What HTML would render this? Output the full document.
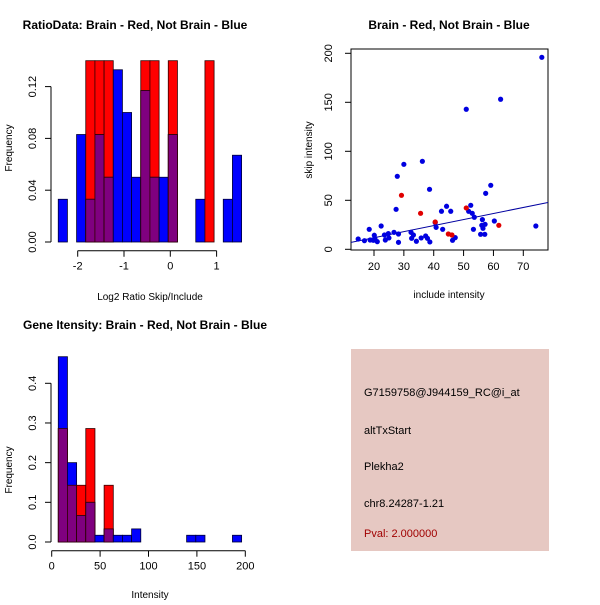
<!DOCTYPE html>
<html><head><meta charset="utf-8">
<style>
html,body{margin:0;padding:0;background:#fff;}
svg text{font-family:"Liberation Sans",sans-serif;fill:#000;}
</style></head>
<body>
<svg id="root" width="600" height="600" xmlns="http://www.w3.org/2000/svg">
  <rect x="0" y="0" width="600" height="600" fill="#fff"/>
  <g id="p1"></g>
  <g id="p2"></g>
  <g id="p3"></g>
  <g id="p4">
    <rect x="351" y="349" width="198" height="202" fill="#E6C8C2"/>
    <text x="364" y="396" font-size="11">G7159758@J944159_RC@i_at</text>
    <text x="364" y="434" font-size="11">altTxStart</text>
    <text x="364" y="470" font-size="11">Plekha2</text>
    <text x="364" y="507" font-size="11">chr8.24287-1.21</text>
    <text x="364" y="537" font-size="11" style="fill:#A00000">Pval: 2.000000</text>
  </g>
</svg>
<script>
// ---- Ratio histogram data ----
const ratioBinStart = -2.42;
const ratioBinWidth = 0.198;
const ratioBlue = [0.033,0,0.083,0.033,0.083,0.05,0.133,0.1,0.05,0.117,0.05,0.05,0.083,0,0,0.033,0,0,0.033,0.067];
const ratioRed  = [0,0,0,0.14,0.14,0.14,0,0,0,0.14,0.14,0,0.14,0,0,0,0.14,0,0,0];
const ratioXTicks = [-2,-1,0,1];
const ratioYTicks = ["0.00","0.04","0.08","0.12"];

// ---- Scatter data ----
const blueX = [14.7,16.8,18.4,18.7,19.8,20.1,20.3,21.1,22.4,23.5,23.8,24.8,25,26.7,27.4,27.8,28.2,28.2,30,32.4,32.6,33.2,34.2,35.8,36.2,37.3,37.9,38.6,38.7,40.5,40.8,42.6,43,44.3,45.7,46.3,47.2,50.9,51.7,52.4,52.9,53.3,53.6,55.7,56.1,56.3,56.5,57.1,57.2,57.4,59.1,60.3,62.4,74.2,76.2];
const blueY = [10.5,8.8,20.4,9.5,9.2,14.3,11.2,7.8,23.8,14.6,9.5,16,11.6,17.3,40.8,74.5,15.6,7.1,86.7,17.3,11.2,14.6,8.2,11.6,89.8,13.6,11.2,61.2,7.5,27.2,22.4,38.8,20.4,43.9,38.8,9.2,11.9,142.9,38.8,44.9,36.7,20.4,32.7,15.3,24.5,30.3,21.4,15.3,25.5,57.1,65.3,28.9,153.1,23.8,195.9];
const redX = [29.2,35.6,40.5,44.9,46.1,50.9,61.8];
const redY = [55.1,36.7,27.9,15.6,14.6,42.2,24.5];
const fitIntercept = -0.5;
const fitSlope = 0.617;
const scatXTicks = [20,30,40,50,60,70];
const scatYTicks = [0,50,100,150,200];

// ---- Gene intensity histogram data ----
const geneBinStart = 6.8;
const geneBinWidth = 9.47;
const geneBlue = [0.467,0.2,0.067,0.1,0.017,0.033,0.017,0.017,0.033,0,0,0,0,0,0.017,0.017,0,0,0,0.017];
const geneRed  = [0.286,0.143,0.143,0.286,0,0.143,0,0,0,0,0,0,0,0,0,0,0,0,0,0];
const geneXTicks = [0,50,100,150,200];
const geneYTicks = ["0.0","0.1","0.2","0.3","0.4"];

const NS="http://www.w3.org/2000/svg";
function mk(parent,tag,attrs,txt){const e=document.createElementNS(NS,tag);for(const k in attrs)e.setAttribute(k,attrs[k]);if(txt!==undefined)e.textContent=txt;parent.appendChild(e);return e;}

function linScale(d0,d1,r0,r1){return v=>r0+(v-d0)*(r1-r0)/(d1-d0);}

function histogram(g,o){
  const sx=o.sx, sy=o.sy;
  for(let i=0;i<o.blue.length;i++){
    const x0=sx(o.start+i*o.width), x1=sx(o.start+(i+1)*o.width);
    const b=o.blue[i], r=o.red[i];
    if(r>0){const e=mk(g,'rect',{x:x0,y:sy(r),width:x1-x0,height:sy(0)-sy(r),fill:'#FF0000',stroke:'#300',"stroke-width":0.8});
      
      }
    if(b>0){const e=mk(g,'rect',{x:x0,y:sy(b),width:x1-x0,height:sy(0)-sy(b),fill:'#0000FF',stroke:'#003',"stroke-width":0.8});
      
      }
    const m=Math.min(b,r);
    if(m>0){const e=mk(g,'rect',{x:x0,y:sy(m),width:x1-x0,height:sy(0)-sy(m),fill:'#7F007F',stroke:'#300',"stroke-width":0.8});
      
      }
  }
}

function yAxis(g,x,ticks,sy,labX){
  const vals=ticks.map(Number);
  const a=mk(g,'line',{x1:x,x2:x,y1:sy(vals[0]),y2:sy(vals[vals.length-1]),stroke:'#000'});
  
  
  ticks.forEach(t=>{const y=sy(Number(t));
    mk(g,'line',{x1:x-6,x2:x,y1:y,y2:y,stroke:'#000'});
    const tx=mk(g,'text',{x:labX,y:y,"font-size":11,"text-anchor":"middle",transform:`rotate(-90 ${labX} ${y})`},String(t));
    
    
  });
}
function xAxis(g,y,ticks,sx){
  const a=mk(g,'line',{x1:sx(ticks[0]),x2:sx(ticks[ticks.length-1]),y1:y,y2:y,stroke:'#000'});
  
  
  ticks.forEach(t=>{const x=sx(t);
    mk(g,'line',{x1:x,x2:x,y1:y,y2:y+6,stroke:'#000'});
    const tx=mk(g,'text',{x:x,y:y+19,"font-size":11,"text-anchor":"middle"},String(t));
    
    
  });
}
function label(g,x,y,txt,name,opts){
  const a={x:x,y:y,"font-size":opts&&opts.size||11,"text-anchor":"middle"};
  if(opts&&opts.bold)a["font-weight"]="bold";
  if(opts&&opts.rot)a.transform=`rotate(-90 ${x} ${y})`;
  const t=mk(g,'text',a,txt);
  
  
}

// Panel 1
(function(){
  const g=document.getElementById('p1');
  const sx=linScale(0,1,170.3,216.6), sy=linScale(0,0.14,242,60.7);
  histogram(g,{sx,sy,start:ratioBinStart,width:ratioBinWidth,blue:ratioBlue,red:ratioRed});
  yAxis(g,51,ratioYTicks,sy,36);
  xAxis(g,250.7,ratioXTicks,sx);
  label(g,135,29,"RatioData: Brain - Red, Not Brain - Blue","chart-title",{bold:true,size:12});
  label(g,150,300,"Log2 Ratio Skip/Include","x-axis-title",{size:10});
  label(g,12,148,"Frequency","y-axis-title",{size:10,rot:true});
})();

// Panel 2
(function(){
  const g=document.getElementById('p2');
  const sx=linScale(20,70,374,523.3), sy=linScale(0,200,249.3,53.3);
  const L=351,R=548,T=49,B=250;
  const f=mk(g,'rect',{x:L,y:T,width:R-L,height:B-T,fill:'none',stroke:'#000'});
  
  
  mk(g,'clipPath',{id:'clip2'});
  mk(document.getElementById('clip2'),'rect',{x:L,y:T,width:R-L,height:B-T});
  const dxa=20+(L-374)/2.986, dxb=20+(R-374)/2.986;
  const ln=mk(g,'line',{x1:sx(dxa),y1:sy(fitIntercept+fitSlope*dxa),x2:sx(dxb),y2:sy(fitIntercept+fitSlope*dxb),stroke:'#0000A0',"stroke-width":1,"clip-path":"url(#clip2)"});
  
  
  blueX.forEach((x,i)=>{const c=mk(g,'circle',{cx:sx(x),cy:sy(blueY[i]),r:2.6,fill:'#0000E0'});
    
    });
  redX.forEach((x,i)=>{const c=mk(g,'circle',{cx:sx(x),cy:sy(redY[i]),r:2.6,fill:'#E00000'});
    
    });
  scatYTicks.forEach(t=>{const y=sy(t);mk(g,'line',{x1:L-6,x2:L,y1:y,y2:y,stroke:'#000'});
    const tx=mk(g,'text',{x:332,y:y,"font-size":11,"text-anchor":"middle",transform:`rotate(-90 332 ${y})`},String(t));
    
    });
  scatXTicks.forEach(t=>{const x=sx(t);mk(g,'line',{x1:x,x2:x,y1:B,y2:B+6,stroke:'#000'});
    const tx=mk(g,'text',{x:x,y:B+20,"font-size":11,"text-anchor":"middle"},String(t));
    
    });
  label(g,449,29,"Brain - Red, Not Brain - Blue","chart-title",{bold:true,size:12});
  label(g,449,298,"include intensity","x-axis-title",{size:10});
  label(g,312,150,"skip intensity","y-axis-title",{size:10,rot:true});
})();

// Panel 3
(function(){
  const g=document.getElementById('p3');
  const sx=linScale(0,200,51.7,245.3), sy=linScale(0,0.4,542,383.3);
  histogram(g,{sx,sy,start:geneBinStart,width:geneBinWidth,blue:geneBlue,red:geneRed});
  yAxis(g,51,geneYTicks,sy,36);
  xAxis(g,550.7,geneXTicks,sx);
  label(g,145,329,"Gene Itensity: Brain - Red, Not Brain - Blue","chart-title",{bold:true,size:12});
  label(g,150,598,"Intensity","x-axis-title",{size:10});
  label(g,12,470,"Frequency","y-axis-title",{size:10,rot:true});
})();
</script>
</body></html>
